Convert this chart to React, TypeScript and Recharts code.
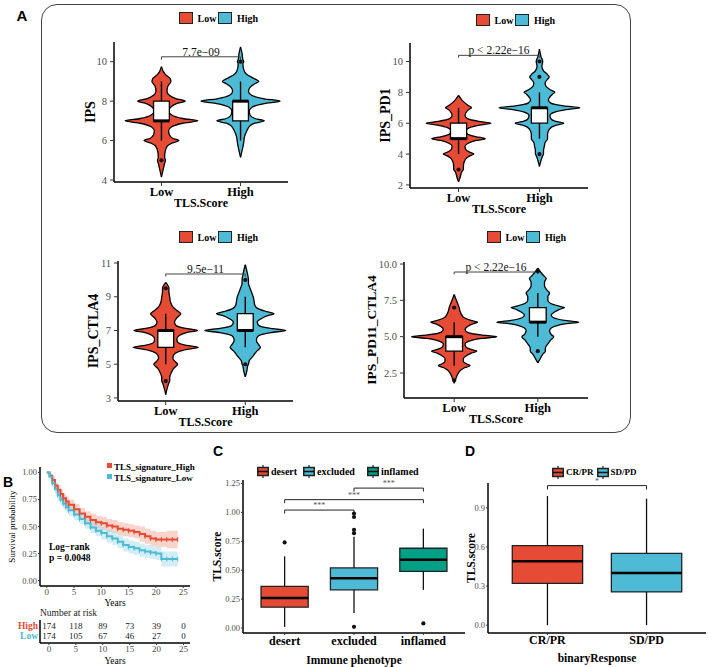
import React from "react";
import {
  Area,
  ComposedChart,
  Label,
  Line,
  ReferenceArea,
  ReferenceLine,
  Scatter,
  XAxis,
  YAxis,
} from "recharts";

const SERIF = "'Liberation Serif', 'Times New Roman', serif";
const SANS = "'Liberation Sans', Arial, sans-serif";

// ---- panel A: violins (TLS.Score groups) ----
const groups = ["Low", "High"];
const groupColors = ["#E64B35", "#4DBBD5"];

// violin outlines: [value, half width in group units]
const ipsLow = [[4.15, 0], [4.5, 0.02], [4.85, 0.04], [5.0, 0.05], [5.15, 0.04], [5.5, 0.05], [5.75, 0.08], [5.88, 0.14], [6.0, 0.22], [6.12, 0.14], [6.3, 0.1], [6.5, 0.09], [6.7, 0.13], [6.88, 0.27], [7.0, 0.46], [7.12, 0.27], [7.3, 0.13], [7.5, 0.09], [7.7, 0.12], [7.88, 0.19], [8.0, 0.3], [8.12, 0.19], [8.3, 0.1], [8.5, 0.07], [8.75, 0.08], [9.0, 0.12], [9.15, 0.11], [9.35, 0.05], [9.75, 0]];
const ipsHigh = [[5.15, 0], [5.5, 0.02], [5.9, 0.04], [6.2, 0.05], [6.5, 0.08], [6.75, 0.12], [6.88, 0.18], [7.0, 0.3], [7.12, 0.18], [7.3, 0.12], [7.5, 0.11], [7.7, 0.15], [7.88, 0.3], [8.0, 0.5], [8.12, 0.3], [8.3, 0.14], [8.5, 0.1], [8.7, 0.12], [8.88, 0.18], [9.0, 0.23], [9.15, 0.17], [9.35, 0.08], [9.6, 0.04], [9.9, 0.03], [10.0, 0.04], [10.1, 0.03], [10.4, 0.02], [10.75, 0]];
const pd1Low = [[2.2, 0], [2.5, 0.02], [2.85, 0.04], [3.0, 0.06], [3.2, 0.06], [3.5, 0.07], [3.75, 0.1], [3.88, 0.14], [4.0, 0.19], [4.12, 0.14], [4.3, 0.09], [4.5, 0.08], [4.7, 0.12], [4.88, 0.22], [5.0, 0.33], [5.12, 0.22], [5.3, 0.11], [5.5, 0.09], [5.7, 0.13], [5.88, 0.26], [6.0, 0.4], [6.12, 0.25], [6.3, 0.11], [6.5, 0.08], [6.75, 0.1], [6.9, 0.13], [7.0, 0.16], [7.15, 0.12], [7.4, 0.06], [7.8, 0]];
const pd1High = [[3.2, 0], [3.6, 0.02], [3.9, 0.04], [4.0, 0.05], [4.2, 0.05], [4.5, 0.06], [4.75, 0.07], [5.0, 0.1], [5.25, 0.1], [5.5, 0.11], [5.75, 0.15], [5.88, 0.21], [6.0, 0.3], [6.12, 0.2], [6.3, 0.14], [6.5, 0.13], [6.7, 0.18], [6.88, 0.33], [7.0, 0.5], [7.12, 0.3], [7.3, 0.14], [7.5, 0.11], [7.7, 0.13], [7.88, 0.16], [8.0, 0.19], [8.15, 0.14], [8.4, 0.08], [8.6, 0.07], [8.85, 0.1], [9.0, 0.12], [9.15, 0.1], [9.4, 0.05], [9.7, 0.03], [10.0, 0.04], [10.3, 0.02], [10.8, 0]];
const ctla4Low = [[3.2, 0], [3.6, 0.02], [3.9, 0.04], [4.0, 0.05], [4.2, 0.05], [4.5, 0.07], [4.75, 0.1], [5.0, 0.15], [5.15, 0.12], [5.35, 0.09], [5.55, 0.1], [5.75, 0.16], [5.88, 0.27], [6.0, 0.41], [6.12, 0.26], [6.3, 0.15], [6.5, 0.14], [6.7, 0.17], [6.88, 0.26], [7.0, 0.4], [7.12, 0.25], [7.3, 0.13], [7.5, 0.11], [7.75, 0.14], [8.0, 0.19], [8.15, 0.15], [8.4, 0.09], [8.7, 0.06], [9.0, 0.05], [9.3, 0.04], [9.5, 0.04], [9.85, 0]];
const ctla4High = [[4.25, 0], [4.6, 0.02], [4.9, 0.03], [5.0, 0.04], [5.2, 0.05], [5.5, 0.1], [5.75, 0.14], [6.0, 0.19], [6.15, 0.17], [6.4, 0.14], [6.6, 0.15], [6.75, 0.2], [6.88, 0.32], [7.0, 0.51], [7.12, 0.32], [7.3, 0.17], [7.5, 0.15], [7.7, 0.2], [7.88, 0.28], [8.0, 0.36], [8.12, 0.27], [8.3, 0.16], [8.5, 0.12], [8.75, 0.11], [9.0, 0.1], [9.25, 0.08], [9.5, 0.06], [9.8, 0.04], [10.0, 0.04], [10.3, 0.03], [10.9, 0]];
const pd11Low = [[1.8, 0], [2.1, 0.02], [2.4, 0.04], [2.7, 0.08], [2.88, 0.13], [3.0, 0.19], [3.12, 0.15], [3.3, 0.11], [3.5, 0.11], [3.7, 0.15], [3.88, 0.21], [4.0, 0.27], [4.12, 0.2], [4.3, 0.14], [4.5, 0.13], [4.7, 0.18], [4.88, 0.33], [5.0, 0.51], [5.12, 0.32], [5.3, 0.16], [5.5, 0.13], [5.7, 0.16], [5.88, 0.22], [6.0, 0.28], [6.12, 0.2], [6.3, 0.12], [6.5, 0.09], [6.75, 0.07], [7.0, 0.06], [7.3, 0.04], [7.6, 0.02], [7.9, 0]];
const pd11High = [[3.2, 0], [3.5, 0.03], [3.8, 0.06], [4.0, 0.09], [4.2, 0.09], [4.5, 0.12], [4.75, 0.15], [5.0, 0.19], [5.15, 0.16], [5.4, 0.14], [5.6, 0.16], [5.75, 0.22], [5.88, 0.32], [6.0, 0.49], [6.12, 0.32], [6.3, 0.19], [6.5, 0.16], [6.7, 0.2], [6.88, 0.26], [7.0, 0.32], [7.12, 0.24], [7.3, 0.15], [7.5, 0.12], [7.75, 0.12], [8.0, 0.14], [8.2, 0.11], [8.5, 0.08], [8.75, 0.08], [9.0, 0.1], [9.2, 0.07], [9.4, 0.04], [9.72, 0]];

type Box = { lo: number; q1: number; med: number; q3: number; hi: number; out: number[] };

const ipsBoxes: Box[] = [
  { lo: 6, q1: 7, med: 7, q3: 8, hi: 9, out: [5] },
  { lo: 6, q1: 7, med: 8, q3: 8, hi: 9, out: [10] },
];
const pd1Boxes: Box[] = [
  { lo: 4, q1: 5, med: 5, q3: 6, hi: 7, out: [3] },
  { lo: 5, q1: 6, med: 7, q3: 7, hi: 8, out: [4, 9, 10] },
];
const ctla4Boxes: Box[] = [
  { lo: 5, q1: 6, med: 7, q3: 7, hi: 8, out: [4, 9.5] },
  { lo: 6, q1: 7, med: 7, q3: 8, hi: 9, out: [5, 10] },
];
const pd11Boxes: Box[] = [
  { lo: 3, q1: 4, med: 5, q3: 5, hi: 6, out: [2, 7] },
  { lo: 5, q1: 6, med: 6, q3: 7, hi: 8, out: [4, 9.5] },
];

const violinTitles = ["IPS", "IPS_PD1", "IPS_CTLA4", "IPS_PD11_CTLA4"];
const violinShapes = [[ipsLow, ipsHigh], [pd1Low, pd1High], [ctla4Low, ctla4High], [pd11Low, pd11High]];
const violinBoxes = [ipsBoxes, pd1Boxes, ctla4Boxes, pd11Boxes];
const violinDomains = [[3.9, 11.0], [1.8, 11.2], [2.82, 11.12], [0.78, 10.14]];
const violinTicks = [[4, 6, 8, 10], [2, 4, 6, 8, 10], [3, 5, 7, 9, 11], [2.5, 5, 7.5, 10]];
const violinPValues = ["7.7e−09", "p < 2.22e−16", "9.5e−11", "p < 2.22e−16"];
const violinBracketAt = [10.25, 10.4, 10.35, 9.45];

// ---- panel B: Kaplan-Meier ----
const kmTime = [0, 0.5, 1, 1.5, 2, 2.5, 3, 3.5, 4, 5, 6, 7, 8, 9, 10, 11, 12, 13, 14, 15, 16, 17, 18, 19, 20, 21, 22, 23, 24];
const highSurv = [1.0, 0.97, 0.93, 0.88, 0.84, 0.8, 0.76, 0.73, 0.7, 0.66, 0.62, 0.59, 0.56, 0.54, 0.53, 0.51, 0.5, 0.48, 0.47, 0.46, 0.45, 0.43, 0.41, 0.39, 0.38, 0.38, 0.38, 0.38, 0.38];
const highUpper = [1.0, 0.99, 0.96, 0.91, 0.88, 0.84, 0.8, 0.78, 0.75, 0.71, 0.67, 0.64, 0.62, 0.6, 0.59, 0.57, 0.56, 0.54, 0.53, 0.52, 0.51, 0.5, 0.48, 0.46, 0.45, 0.45, 0.46, 0.46, 0.46];
const highLower = [1.0, 0.95, 0.9, 0.85, 0.8, 0.76, 0.72, 0.68, 0.65, 0.61, 0.57, 0.54, 0.5, 0.48, 0.47, 0.45, 0.44, 0.42, 0.41, 0.4, 0.39, 0.36, 0.34, 0.32, 0.31, 0.31, 0.3, 0.3, 0.3];
const lowSurv = [1.0, 0.96, 0.9, 0.85, 0.79, 0.75, 0.71, 0.68, 0.65, 0.61, 0.57, 0.53, 0.49, 0.46, 0.44, 0.41, 0.39, 0.36, 0.33, 0.31, 0.3, 0.28, 0.27, 0.26, 0.25, 0.2, 0.2, 0.2, 0.2];
const lowUpper = [1.0, 0.99, 0.94, 0.9, 0.84, 0.8, 0.76, 0.73, 0.7, 0.66, 0.62, 0.58, 0.55, 0.52, 0.5, 0.47, 0.45, 0.42, 0.39, 0.37, 0.36, 0.34, 0.33, 0.32, 0.31, 0.27, 0.27, 0.27, 0.27];
const lowLower = [1.0, 0.93, 0.86, 0.8, 0.74, 0.7, 0.66, 0.63, 0.6, 0.56, 0.52, 0.48, 0.44, 0.41, 0.38, 0.35, 0.33, 0.3, 0.27, 0.25, 0.24, 0.22, 0.21, 0.2, 0.19, 0.13, 0.13, 0.13, 0.13];
const kmTicksX = [0, 5, 10, 15, 20, 25];
const kmTicksY = [0, 0.25, 0.5, 0.75, 1];
const riskTimes = [0, 5, 10, 15, 20, 25];
const highAtRisk = [174, 118, 89, 73, 39, 0];
const lowAtRisk = [174, 105, 67, 46, 27, 0];
const kmColors = ["#E64B35", "#4DBBD5"];
const kmBandColors = ["#F0A08C", "#9ED6E8"];

// ---- panel C: immune phenotype ----
const phenotypes = ["desert", "excluded", "inflamed"];
const phenoColors = ["#E64B35", "#4DBBD5", "#00A087"];
const phenoBoxes: Box[] = [
  { lo: 0.01, q1: 0.18, med: 0.26, q3: 0.36, hi: 0.62, out: [0.74] },
  { lo: 0.13, q1: 0.33, med: 0.43, q3: 0.52, hi: 0.79, out: [0.01, 0.82, 0.85, 0.96, 0.99] },
  { lo: 0.33, q1: 0.49, med: 0.59, q3: 0.69, hi: 0.86, out: [0.04] },
];
const phenoBrackets: [number, number, number, string][] = [
  [1, 2, 1.02, "***"],
  [1, 3, 1.11, "***"],
  [2, 3, 1.21, "***"],
];
const phenoTicks = [0, 0.25, 0.5, 0.75, 1, 1.25];

// ---- panel D: binary response ----
const responses = ["CR/PR", "SD/PD"];
const responseColors = ["#E64B35", "#4DBBD5"];
const responseBoxes: Box[] = [
  { lo: 0.0, q1: 0.32, med: 0.49, q3: 0.61, hi: 0.99, out: [] },
  { lo: 0.0, q1: 0.255, med: 0.4, q3: 0.55, hi: 0.97, out: [] },
];
const responseBrackets: [number, number, number, string][] = [[1, 2, 1.07, "*"]];
const responseTicks = [0, 0.3, 0.6, 0.9];

// ---- layout ----
const violinLayout = [
  { x: 114, y: 42, w: 174, h: 140, lx: 179, ly: 18, gap: 24, fs: 14 },
  { x: 410, y: 43, w: 178, h: 145, lx: 476, ly: 20, gap: 25, fs: 14 },
  { x: 118, y: 261, w: 175, h: 140, lx: 179, ly: 237, gap: 25, fs: 14 },
  { x: 404, y: 262, w: 184, h: 136, lx: 487, ly: 237, gap: 32.5, fs: 13.5 },
];

const axisLine = { stroke: "#000", strokeWidth: 1.5 };
const tickLine = { stroke: "#333", strokeWidth: 1 };

const yTitle = (text: string, gap: number, size: number, bold = true) => (props: any) => {
  const vb = props.viewBox || { x: 0, y: 0, width: 0, height: 0 };
  const x = vb.x + vb.width - gap;
  const y = vb.y + vb.height / 2;
  return (
    <text x={x} y={y} transform={`rotate(-90, ${x}, ${y})`} textAnchor="middle" dominantBaseline="central"
      fontFamily={SERIF} fontWeight={bold ? 700 : 400} fontSize={size} fill="#000">
      {text}
    </text>
  );
};

const xTitle = (text: string, dist: number, size: number, bold = true) => (props: any) => {
  const vb = props.viewBox || { x: 0, y: 0, width: 0, height: 0 };
  return (
    <text x={vb.x + vb.width / 2} y={vb.y + dist} textAnchor="middle" dominantBaseline="central"
      fontFamily={SERIF} fontWeight={bold ? 700 : 400} fontSize={size} fill="#000">
      {text}
    </text>
  );
};

const OutlierDot = (p: any) => <circle cx={p.cx} cy={p.cy} r={2.1} fill="#111" />;

function Txt({ x, y, size, bold, color = "#000", anchor = "start", family = SERIF, children }: any) {
  const tx = anchor === "middle" ? "-50%" : anchor === "end" ? "-100%" : "0";
  return (
    <div style={{ position: "absolute", left: x, top: y - size / 2, fontSize: size, lineHeight: `${size}px`,
      fontWeight: bold ? 700 : 400, color, fontFamily: family, whiteSpace: "nowrap", transform: `translateX(${tx})` }}>
      {children}
    </div>
  );
}

function GroupLegend({ x, y }: { x: number; y: number }) {
  return (
    <div style={{ position: "absolute", left: x, top: y - 7, height: 14, display: "flex", alignItems: "center",
      fontFamily: SERIF, fontWeight: 700, fontSize: 10 }}>
      {groups.map((g, i) => (
        <React.Fragment key={g}>
          <div style={{ width: 11.5, height: 10.5, background: groupColors[i], border: "1.5px solid #222" }} />
          <span style={{ marginLeft: 5, marginRight: 2 }}>{g}</span>
        </React.Fragment>
      ))}
    </div>
  );
}

function BoxIcon({ color }: { color: string }) {
  return (
    <svg width={12} height={13} style={{ display: "block" }}>
      <line x1={6} x2={6} y1={0} y2={13} stroke="#222" strokeWidth={1.2} />
      <rect x={0.75} y={2.5} width={10.5} height={8} fill={color} stroke="#222" strokeWidth={1.5} />
      <line x1={0.75} x2={11.25} y1={6.5} y2={6.5} stroke="#111" strokeWidth={1.6} />
    </svg>
  );
}

function BoxLegend({ x, y, names, colors, size, gaps }: any) {
  return (
    <div style={{ position: "absolute", left: x, top: y - 7, height: 14, display: "flex", alignItems: "center",
      fontFamily: SERIF, fontWeight: 700, fontSize: size }}>
      {names.map((n: string, i: number) => (
        <React.Fragment key={n}>
          <BoxIcon color={colors[i]} />
          <span style={{ marginLeft: 2, marginRight: gaps[i] }}>{n}</span>
        </React.Fragment>
      ))}
    </div>
  );
}

function ViolinPlot({ i }: { i: number }) {
  const L = violinLayout[i];
  const shapes = violinShapes[i];
  const boxes = violinBoxes[i];
  const outs = boxes.flatMap((b, g) => b.out.map((v) => ({ x: g + 1, y: v })));
  const b = violinBracketAt[i];
  const fmt = (v: number) => (i === 3 ? v.toFixed(1) : String(v));
  const bw = 0.1;
  return (
    <div style={{ position: "absolute", left: L.x - 70, top: L.y - 10 }}>
      <ComposedChart layout="vertical" width={L.w + 75} height={L.h + 55} margin={{ top: 10, right: 5, left: 0, bottom: 0 }}>
        <XAxis type="number" dataKey="x" domain={[0.4, 2.6]} ticks={[1, 2]} allowDataOverflow
          tickFormatter={(v: number) => groups[v - 1]} height={45} tickSize={4} tickMargin={1}
          axisLine={axisLine} tickLine={tickLine}
          tick={{ fill: "#000", fontSize: 12.5, fontWeight: 700, fontFamily: SERIF }}>
          <Label content={xTitle("TLS.Score", 21, 12)} />
        </XAxis>
        <YAxis type="number" dataKey="y" domain={violinDomains[i]} ticks={violinTicks[i]} allowDataOverflow reversed
          tickFormatter={fmt} width={70} tickSize={4} tickMargin={3} axisLine={axisLine} tickLine={tickLine}
          interval={0} tick={{ fill: "#4D4D4D", fontSize: 10.5, fontFamily: SERIF }}>
          <Label content={yTitle(violinTitles[i], L.gap, L.fs)} />
        </YAxis>
        {shapes.map((s, g) => (
          <Area key={`v${g}`} data={s.map(([y, w]) => ({ y, band: [g + 1 - w, g + 1 + w] }))} dataKey="band"
            type="monotone" fill={groupColors[g]} fillOpacity={1} stroke="#000" strokeWidth={1.3}
            dot={false} activeDot={false} isAnimationActive={false} />
        ))}
        {boxes.map((bx, g) => (
          <ReferenceLine key={`wl${g}`} segment={[{ x: g + 1, y: bx.lo }, { x: g + 1, y: bx.q1 }]} stroke="#000" strokeWidth={1.4} />
        ))}
        {boxes.map((bx, g) => (
          <ReferenceLine key={`wh${g}`} segment={[{ x: g + 1, y: bx.q3 }, { x: g + 1, y: bx.hi }]} stroke="#000" strokeWidth={1.4} />
        ))}
        {boxes.map((bx, g) => (
          <ReferenceArea key={`b${g}`} x1={g + 1 - bw} x2={g + 1 + bw} y1={bx.q1} y2={bx.q3}
            fill="#fff" fillOpacity={1} stroke="#000" strokeWidth={1.3} />
        ))}
        {boxes.map((bx, g) => (
          <ReferenceLine key={`m${g}`} segment={[{ x: g + 1 - bw, y: bx.med }, { x: g + 1 + bw, y: bx.med }]} stroke="#000" strokeWidth={3} />
        ))}
        <Scatter data={outs} shape={OutlierDot} isAnimationActive={false} />
        <ReferenceLine segment={[{ x: 1, y: b }, { x: 2, y: b }]} stroke="#444" strokeWidth={1}
          label={{ value: violinPValues[i], position: "top", offset: 1, fill: "#111", fontSize: 11.5, fontFamily: SERIF }} />
        <ReferenceLine segment={[{ x: 1, y: b }, { x: 1, y: b - 0.15 }]} stroke="#444" strokeWidth={1} />
        <ReferenceLine segment={[{ x: 2, y: b }, { x: 2, y: b - 0.15 }]} stroke="#444" strokeWidth={1} />
      </ComposedChart>
    </div>
  );
}

function BoxPanel({ L, cats, colors, boxes, brackets, domain, ticks, digits, xLabel, yGap, xTickDist, xTitleDist, half }: any) {
  const outs = boxes.flatMap((b: Box, i: number) => b.out.map((v) => ({ x: i + 1, y: v })));
  const n = cats.length;
  return (
    <div style={{ position: "absolute", left: L.x - 40, top: L.y - 5 }}>
      <ComposedChart width={L.w + 42} height={L.h + 45} margin={{ top: 5, right: 2, left: 0, bottom: 0 }}>
        <XAxis type="number" dataKey="x" domain={[0.4, n + 0.6]} ticks={cats.map((_: string, i: number) => i + 1)}
          tickFormatter={(v: number) => cats[v - 1]} allowDataOverflow height={40} tickSize={2} tickMargin={xTickDist}
          axisLine={axisLine} tickLine={tickLine}
          tick={{ fill: "#000", fontSize: 12, fontWeight: 700, fontFamily: SERIF }}>
          <Label content={xTitle(xLabel, xTitleDist, 11.5)} />
        </XAxis>
        <YAxis type="number" dataKey="y" domain={domain} ticks={ticks} allowDataOverflow width={40}
          tickFormatter={(v: number) => v.toFixed(digits)} tickSize={2} tickMargin={1} interval={0}
          axisLine={axisLine} tickLine={tickLine} tick={{ fill: "#4D4D4D", fontSize: 8.5, fontFamily: SERIF }}>
          <Label content={yTitle("TLS.score", yGap, 11.5)} />
        </YAxis>
        {boxes.map((b: Box, i: number) => (
          <ReferenceLine key={`wl${i}`} segment={[{ x: i + 1, y: b.lo }, { x: i + 1, y: b.q1 }]} stroke="#111" strokeWidth={1.3} />
        ))}
        {boxes.map((b: Box, i: number) => (
          <ReferenceLine key={`wh${i}`} segment={[{ x: i + 1, y: b.q3 }, { x: i + 1, y: b.hi }]} stroke="#111" strokeWidth={1.3} />
        ))}
        {boxes.map((b: Box, i: number) => (
          <ReferenceArea key={`b${i}`} x1={i + 1 - half} x2={i + 1 + half} y1={b.q1} y2={b.q3}
            fill={colors[i]} fillOpacity={1} stroke="#222" strokeWidth={1.3} />
        ))}
        {boxes.map((b: Box, i: number) => (
          <ReferenceLine key={`m${i}`} segment={[{ x: i + 1 - half, y: b.med }, { x: i + 1 + half, y: b.med }]} stroke="#000" strokeWidth={2.6} />
        ))}
        <Scatter data={outs} shape={OutlierDot} isAnimationActive={false} />
        {brackets.map(([a, c, y, s]: [number, number, number, string], k: number) => (
          <ReferenceLine key={`br${k}`} segment={[{ x: a, y }, { x: c, y }]} stroke="#222" strokeWidth={1}
            label={{ value: s, position: "top", offset: 2, fill: "#555", fontSize: 8, fontFamily: SERIF }} />
        ))}
        {brackets.map(([a, , y]: [number, number, number, string], k: number) => (
          <ReferenceLine key={`bl${k}`} segment={[{ x: a, y }, { x: a, y: y - 0.03 }]} stroke="#222" strokeWidth={1} />
        ))}
        {brackets.map(([, c, y]: [number, number, number, string], k: number) => (
          <ReferenceLine key={`bc${k}`} segment={[{ x: c, y }, { x: c, y: y - 0.03 }]} stroke="#222" strokeWidth={1} />
        ))}
      </ComposedChart>
    </div>
  );
}

const CensorMark = (color: string) => (p: any) => {
  if (p.cx == null || p.payload.t < 1) return <g key={p.key} />;
  return <line key={p.key} x1={p.cx} x2={p.cx} y1={p.cy - 2.5} y2={p.cy + 2.5} stroke={color} strokeWidth={1} />;
};

function KmPlot() {
  const rows = kmTime.map((t, i) => ({
    t,
    high: highSurv[i],
    highBand: [highLower[i], highUpper[i]],
    low: lowSurv[i],
    lowBand: [lowLower[i], lowUpper[i]],
  }));
  return (
    <div style={{ position: "absolute", left: 0, top: 462 }}>
      <ComposedChart width={200} height={146} data={rows} margin={{ top: 5, right: 10, left: 0, bottom: 0 }}>
        <XAxis type="number" dataKey="t" domain={[-1.25, 26.25]} ticks={kmTicksX} allowDataOverflow height={22}
          tickSize={2} tickMargin={1} axisLine={axisLine} tickLine={tickLine} interval={0}
          tick={{ fill: "#4D4D4D", fontSize: 9, fontFamily: SERIF }}>
          <Label content={xTitle("Years", 17, 9.5, false)} />
        </XAxis>
        <YAxis type="number" domain={[-0.05, 1.05]} ticks={kmTicksY} allowDataOverflow width={40} interval={0}
          tickFormatter={(v: number) => v.toFixed(2)} tickSize={2} tickMargin={1} axisLine={axisLine} tickLine={tickLine}
          tick={{ fill: "#4D4D4D", fontSize: 8.5, fontFamily: SERIF }}>
          <Label content={yTitle("Survival probability", 28, 9, false)} />
        </YAxis>
        <Area dataKey="highBand" type="stepAfter" fill={kmBandColors[0]} fillOpacity={0.45} stroke="none"
          dot={false} activeDot={false} isAnimationActive={false} />
        <Area dataKey="lowBand" type="stepAfter" fill={kmBandColors[1]} fillOpacity={0.45} stroke="none"
          dot={false} activeDot={false} isAnimationActive={false} />
        <Line dataKey="high" type="stepAfter" stroke={kmColors[0]} strokeWidth={2} dot={CensorMark(kmColors[0])}
          activeDot={false} isAnimationActive={false} />
        <Line dataKey="low" type="stepAfter" stroke={kmColors[1]} strokeWidth={2} dot={CensorMark(kmColors[1])}
          activeDot={false} isAnimationActive={false} />
      </ComposedChart>
    </div>
  );
}

const RiskTick = (p: any) => {
  const v = p.payload.value;
  return (
    <text x={p.x - 2} y={p.y} textAnchor="end" dominantBaseline="central" fontFamily={SERIF} fontWeight={700}
      fontSize={9.5} fill={kmColors[v === 1 ? 0 : 1]}>
      {v === 1 ? "High" : "Low"}
    </text>
  );
};

const RiskNumber = (p: any) => (
  <text x={p.cx} y={p.cy} textAnchor="middle" dominantBaseline="central" fontFamily={SERIF} fontSize={9} fill="#222">
    {p.payload.n}
  </text>
);

function RiskTable() {
  const highRows = riskTimes.map((t, i) => ({ x: t, y: 1, n: highAtRisk[i] }));
  const lowRows = riskTimes.map((t, i) => ({ x: t, y: 0, n: lowAtRisk[i] }));
  return (
    <div style={{ position: "absolute", left: 0, top: 615 }}>
      <ComposedChart width={200} height={50} margin={{ top: 5, right: 10, left: 0, bottom: 0 }}>
        <XAxis type="number" dataKey="x" domain={[-1.65, 26.2]} ticks={riskTimes} allowDataOverflow height={22}
          tickSize={2} tickMargin={1} axisLine={axisLine} tickLine={tickLine} interval={0}
          tick={{ fill: "#4D4D4D", fontSize: 9, fontFamily: SERIF }}>
          <Label content={xTitle("Years", 18, 9.5, false)} />
        </XAxis>
        <YAxis type="number" dataKey="y" domain={[-0.64, 1.55]} ticks={[0, 1]} allowDataOverflow width={40}
          tickSize={0} tickMargin={0} axisLine={axisLine} tickLine={false} interval={0} tick={RiskTick} />
        <Scatter data={highRows} shape={RiskNumber} isAnimationActive={false} />
        <Scatter data={lowRows} shape={RiskNumber} isAnimationActive={false} />
      </ComposedChart>
    </div>
  );
}

export default function App() {
  return (
    <div style={{ position: "absolute", left: 0, top: 0, width: 708, height: 667, background: "#fff", overflow: "hidden", fontFamily: SERIF }}>
      <div style={{ position: "absolute", left: 41, top: 4, width: 588, height: 427, border: "1.2px solid #444", borderRadius: 16 }} />
      <Txt x={22} y={15} size={15} bold family={SANS} anchor="middle">A</Txt>
      <Txt x={8} y={482} size={14} bold family={SANS} anchor="middle">B</Txt>
      <Txt x={218} y={451} size={14} bold family={SANS} anchor="middle">C</Txt>
      <Txt x={470} y={451} size={14} bold family={SANS} anchor="middle">D</Txt>

      {violinLayout.map((L, i) => (
        <React.Fragment key={i}>
          <GroupLegend x={L.lx} y={L.ly} />
          <ViolinPlot i={i} />
        </React.Fragment>
      ))}

      <KmPlot />
      <div style={{ position: "absolute", left: 107, top: 463, width: 5, height: 5, background: kmColors[0] }} />
      <Txt x={114} y={467} size={9} bold>TLS_signature_High</Txt>
      <div style={{ position: "absolute", left: 107, top: 474, width: 5, height: 5, background: kmColors[1] }} />
      <Txt x={114} y={478} size={9} bold>TLS_signature_Low</Txt>
      <Txt x={49} y={548} size={9.5} bold>Log−rank</Txt>
      <Txt x={49} y={559} size={9.5} bold>p = 0.0048</Txt>
      <Txt x={40} y={614} size={9.5} color="#222">Number at risk</Txt>
      <RiskTable />

      <BoxLegend x={257} y={471} names={phenotypes} colors={phenoColors} size={10} gaps={[6, 12, 0]} />
      <BoxPanel L={{ x: 243, y: 480, w: 222, h: 153 }} cats={phenotypes} colors={phenoColors} boxes={phenoBoxes}
        brackets={phenoBrackets} domain={[-0.043, 1.28]} ticks={phenoTicks} digits={2} xLabel="Immune phenotype"
        yGap={26} xTickDist={1} xTitleDist={27} half={0.34} />

      <BoxLegend x={552} y={472} names={responses} colors={responseColors} size={9} gaps={[3, 0]} />
      <BoxPanel L={{ x: 488, y: 483, w: 218, h: 150 }} cats={responses} colors={responseColors} boxes={responseBoxes}
        brackets={responseBrackets} domain={[-0.06, 1.09]} ticks={responseTicks} digits={1} xLabel="binaryResponse"
        yGap={17} xTickDist={0} xTitleDist={25} half={0.355} />
    </div>
  );
}
